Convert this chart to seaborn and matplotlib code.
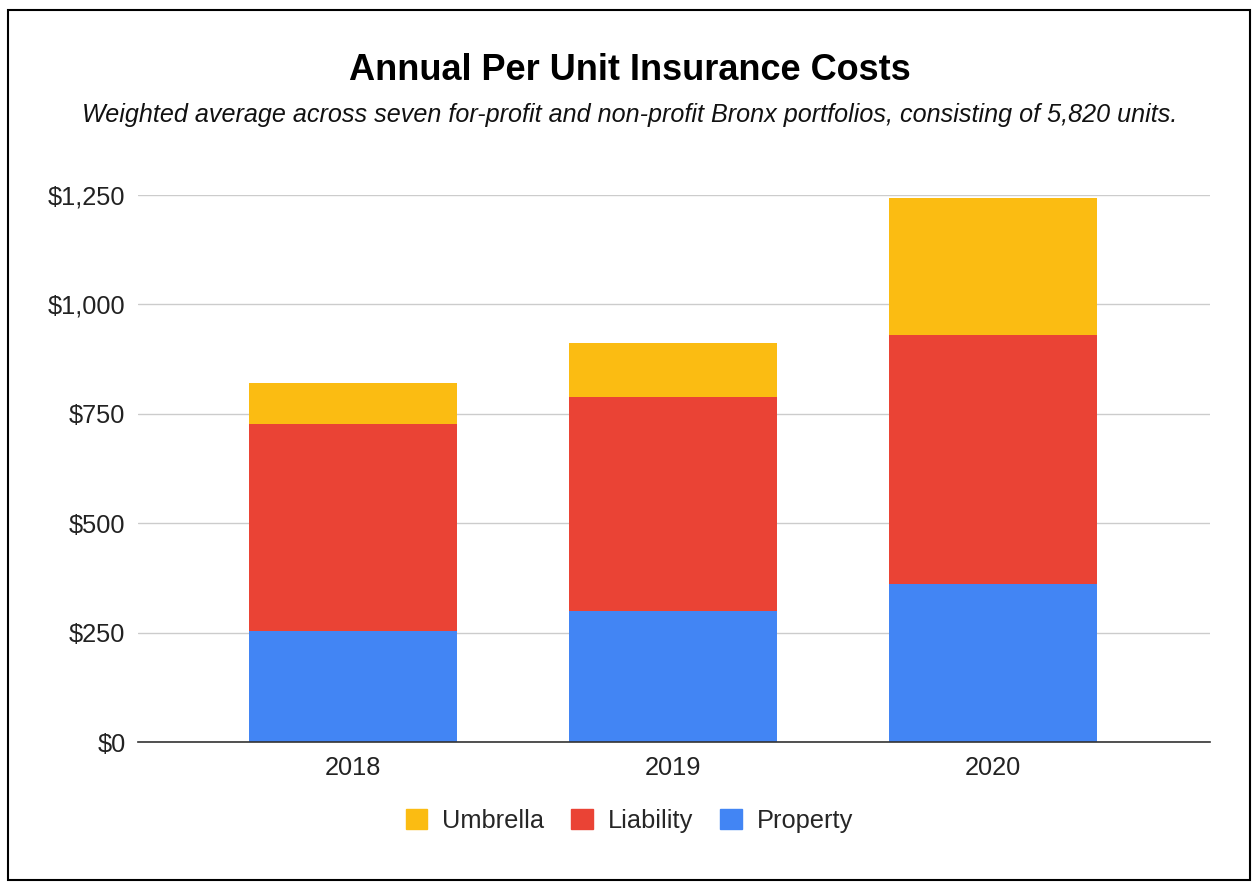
import pandas as pd
import matplotlib.pyplot as plt
import seaborn as sns
from matplotlib.patches import Rectangle, Patch
from matplotlib.ticker import FuncFormatter

years = ['2018', '2019', '2020']
property_cost = [253, 299, 361]
liability_cost = [473, 489, 570]
umbrella_cost = [94, 125, 312]

colors = {'Umbrella': '#FBBC12', 'Liability': '#EA4335', 'Property': '#4285F4'}

df = pd.DataFrame({
    'Year': years,
    'Property': property_cost,
    'Liability': liability_cost,
    'Umbrella': umbrella_cost,
})
# cumulative heights for stacking (draw tallest first)
df['Prop_Liab'] = df['Property'] + df['Liability']
df['Total'] = df['Prop_Liab'] + df['Umbrella']

sns.set_theme(style='white')
plt.rcParams['font.family'] = ['Liberation Sans', 'DejaVu Sans']

fig = plt.figure(figsize=(12.59, 8.91), dpi=100)
ax = fig.add_axes([0.1096, 0.1672, 0.8515, 0.6139])

for col, name in [('Total', 'Umbrella'), ('Prop_Liab', 'Liability'), ('Property', 'Property')]:
    sns.barplot(data=df, x='Year', y=col, color=colors[name], width=0.65,
                saturation=1, linewidth=0, ax=ax, zorder=3)

ax.set_xlim(-0.672, 2.678)
ax.set_ylim(0, 1250)
ax.set_yticks([0, 250, 500, 750, 1000, 1250])
ax.yaxis.set_major_formatter(FuncFormatter(lambda v, p: f'${v:,.0f}'))
ax.grid(axis='y', color='#cccccc', linewidth=1, zorder=0)
ax.set_axisbelow(True)
for s in ['top', 'left', 'right']:
    ax.spines[s].set_visible(False)
ax.spines['bottom'].set_color('#333333')
ax.spines['bottom'].set_linewidth(1.2)
ax.spines['bottom'].set_zorder(4)
ax.tick_params(axis='y', length=0, pad=9, labelsize=18.3, labelcolor='#222222')
ax.tick_params(axis='x', length=0, pad=10, labelsize=18.3, labelcolor='#222222')
ax.set_xlabel('')
ax.set_ylabel('')

fig.text(0.5, 1 - 71 / 891, 'Annual Per Unit Insurance Costs', ha='center', va='center',
         fontsize=26, fontweight='bold', color='black')
fig.text(0.5, 1 - 115 / 891,
         'Weighted average across seven for-profit and non-profit Bronx portfolios, consisting of 5,820 units.',
         ha='center', va='center', fontsize=18.1, style='italic', color='#111111')

handles = [Patch(color=colors[n], label=n) for n in ['Umbrella', 'Liability', 'Property']]
fig.legend(handles=handles, loc='center', bbox_to_anchor=(0.5, 1 - 821 / 891), ncol=3,
           frameon=False, fontsize=18.3, handlelength=0.85, handleheight=0.85,
           handletextpad=0.6, columnspacing=1.05)

fig.add_artist(Rectangle((8 / 1259, 1 - 880 / 891), 1242 / 1259, 870 / 891,
                         transform=fig.transFigure, fill=False, edgecolor='black', linewidth=1.5))

plt.savefig('out.png', dpi=100)
